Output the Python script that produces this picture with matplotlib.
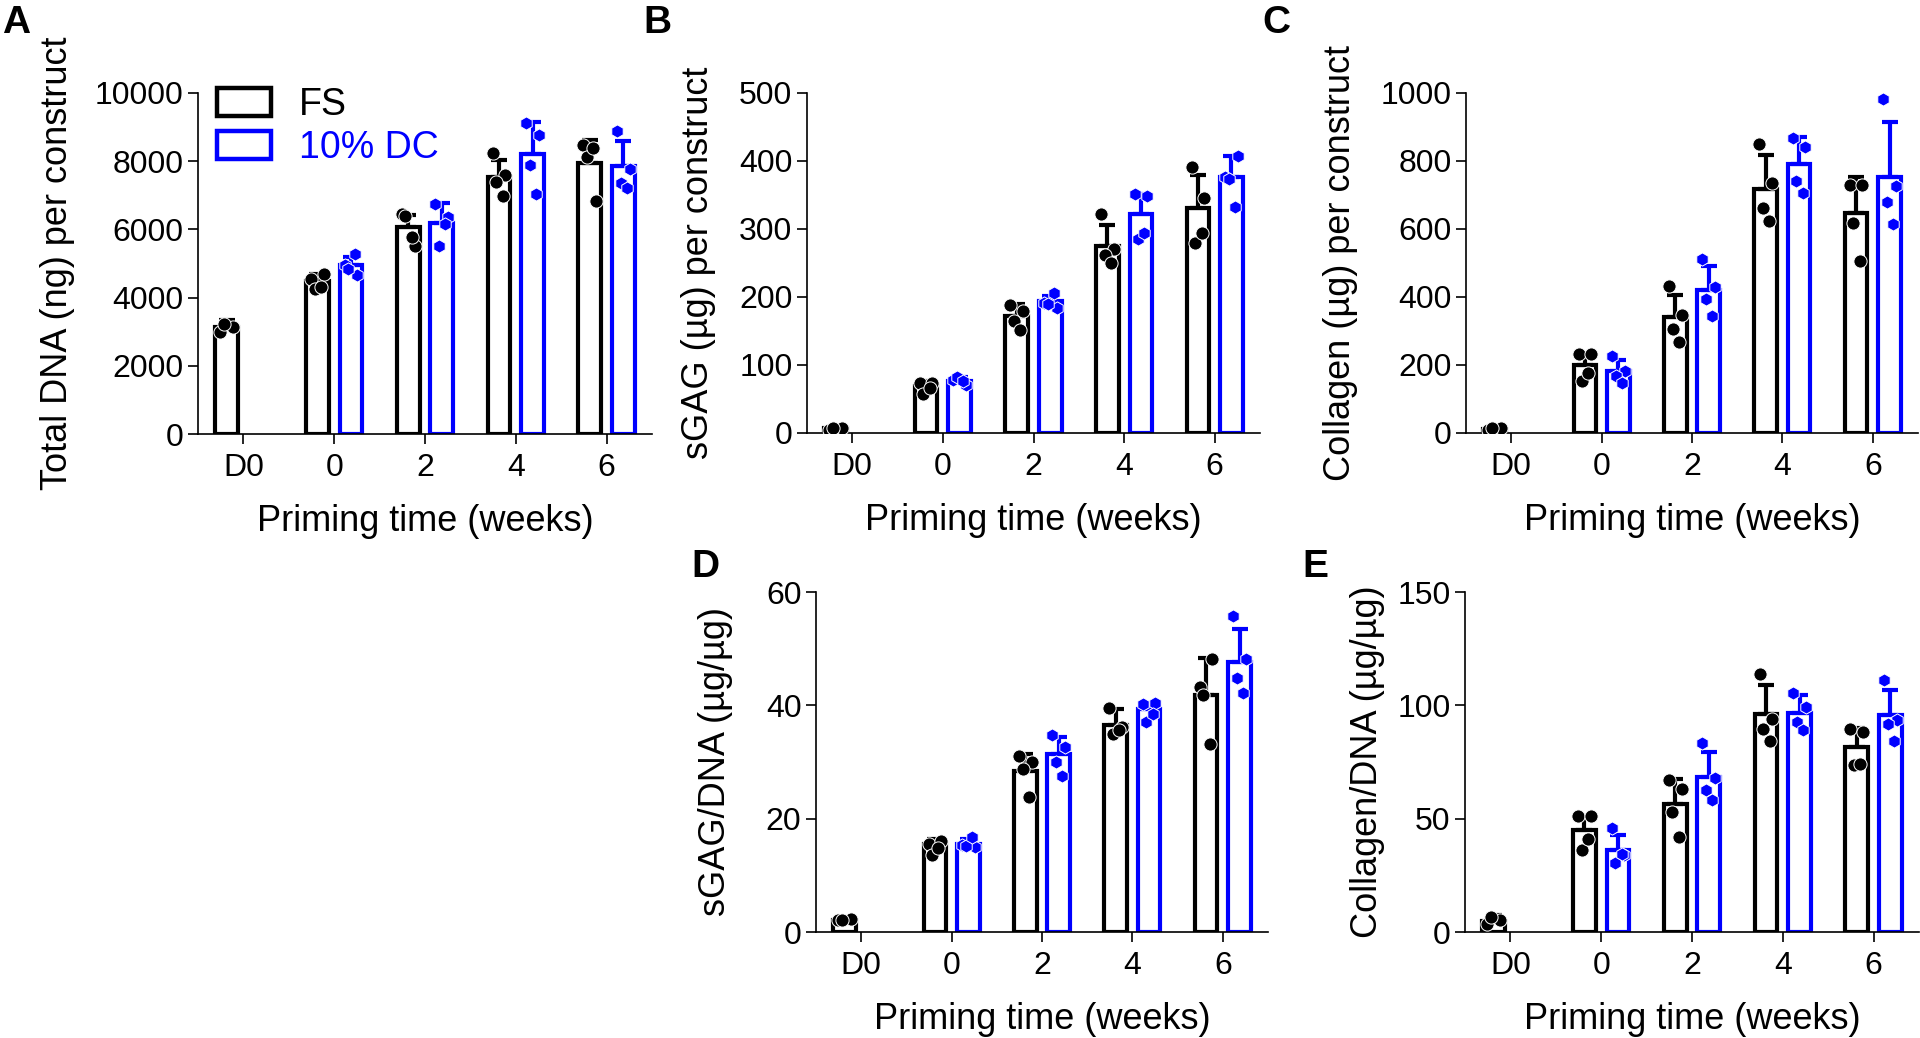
import numpy as np
import matplotlib
matplotlib.use('Agg')
import matplotlib.pyplot as plt
from matplotlib.patches import Patch

plt.rcParams['font.family'] = ['Liberation Sans', 'DejaVu Sans']

groups = ['D0', '0', '2', '4', '6']

# A - Total DNA (ng)
dna_fs_mean = [3130, 4500, 6060, 7545, 7960]
dna_fs_sd = [200, 180, 350, 485, 676]
dna_fs_pts = [[2980, 3150, 3240], [4550, 4680, 4250, 4300], [6460, 5500, 6380, 5780],
              [8230, 7600, 7400, 6970], [8480, 6820, 8130, 8400]]
dna_dc_mean = [4970, 6180, 8212, 7859]
dna_dc_sd = [230, 590, 930, 727]
dna_dc_pts = [[4950, 4650, 4850, 5270], [6750, 6350, 5500, 6150],
              [9110, 8770, 7900, 7050], [8890, 7780, 7370, 7220]]

# B - sGAG (ug)
gag_fs_mean = [7, 69, 172, 275, 331]
gag_fs_sd = [2, 8, 17, 31, 48]
gag_fs_pts = [[5, 8, 8], [73, 74, 58, 66], [188, 179, 164, 152],
              [322, 270, 262, 250], [391, 346, 280, 294]]
gag_dc_mean = [77, 194, 322, 376]
gag_dc_sd = [5, 8, 29, 32]
gag_dc_pts = [[78, 71, 82, 76], [191, 184, 189, 206],
              [351, 348, 285, 294], [377, 408, 374, 333]]

# C - Collagen (ug)
col_fs_mean = [13, 200, 341, 719, 646]
col_fs_sd = [5, 32, 65, 99, 107]
col_fs_pts = [[10, 16, 14], [232, 232, 152, 177], [431, 348, 305, 268],
              [850, 735, 662, 623], [729, 729, 618, 505]]
col_dc_mean = [182, 421, 791, 752]
col_dc_sd = [32, 71, 80, 162]
col_dc_pts = [[227, 182, 167, 146], [513, 429, 394, 343],
              [869, 840, 742, 707], [982, 727, 679, 614]]

# D - sGAG/DNA
gagdna_fs_mean = [2.2, 15.5, 28.5, 36.6, 41.8]
gagdna_fs_sd = [0.3, 0.9, 2.9, 2.8, 6.6]
gagdna_fs_pts = [[2.2, 2.3, 2.1], [15.5, 16.0, 13.6, 14.8], [31.0, 30.0, 28.8, 23.8],
                 [39.6, 36.1, 35.0, 35.6], [43.2, 48.2, 41.9, 33.1]]
gagdna_dc_mean = [15.6, 31.5, 39.4, 47.6]
gagdna_dc_sd = [0.8, 2.9, 1.1, 5.9]
gagdna_dc_pts = [[15.3, 15.0, 15.2, 16.8], [34.7, 32.6, 30.0, 27.6],
                 [40.2, 40.4, 37.1, 38.5], [55.7, 48.2, 44.9, 42.2]]

# E - Collagen/DNA
coldna_fs_mean = [5.0, 44.9, 56.6, 96.0, 81.6]
coldna_fs_sd = [2.4, 6.1, 11.0, 12.8, 8.5]
coldna_fs_pts = [[3.5, 5.5, 6.6], [51.3, 51.0, 36.0, 41.2], [66.9, 63.2, 52.9, 41.9],
                 [113.7, 94.1, 89.7, 84.3], [89.7, 88.2, 73.5, 74.0]]
coldna_dc_mean = [36.3, 68.4, 96.6, 95.6]
coldna_dc_sd = [6.3, 11.0, 7.8, 11.0]
coldna_dc_pts = [[46.0, 33.8, 30.4, 34.6], [83.5, 68.1, 62.5, 58.4],
                 [105.4, 99.3, 92.6, 89.3], [111.3, 93.4, 91.9, 84.3]]

BLUE = '#0000ff'
W, H = 1920, 1038
fig = plt.figure(figsize=(W / 100, H / 100), dpi=100)

def make_ax(l, t, r, b):
    return fig.add_axes([l / W, 1 - b / H, (r - l) / W, (b - t) / H])

jit = [-0.07, 0.07, -0.03, 0.04]
bw = 0.25
off = 0.185
LW = 3.0

def draw_series(ax, xs, means, sds, pts, color, marker, ms):
    ax.bar(xs, means, width=bw, facecolor='white', edgecolor=color, linewidth=LW, zorder=2)
    for x, m, s, p in zip(xs, means, sds, pts):
        ax.errorbar([x], [m], yerr=[[0], [s]], fmt='none', ecolor=color, elinewidth=LW,
                    capsize=5.5, capthick=LW, zorder=3)
        jx = [x + jit[i] for i in range(len(p))]
        ax.plot(jx, p, linestyle='none', marker=marker, markersize=ms, color=color,
                markeredgecolor='white', markeredgewidth=0.7, zorder=4)

def panel(ax, fs_m, fs_s, fs_p, dc_m, dc_s, dc_p, ymax, ystep, ylabel, ylab_x):
    xg = np.arange(len(groups))
    draw_series(ax, xg - off, fs_m, fs_s, fs_p, 'black', 'o', 9.5)
    draw_series(ax, xg[1:] + off, dc_m, dc_s, dc_p, BLUE, 'h', 9.5)
    ax.set_xlim(-0.5, 4.5)
    ax.set_ylim(0, ymax)
    ax.set_yticks(np.arange(0, ymax + ystep / 2, ystep))
    ax.set_xticks(xg)
    ax.set_xticklabels(groups)
    for s in ['top', 'right']:
        ax.spines[s].set_visible(False)
    for s in ['left', 'bottom']:
        ax.spines[s].set_linewidth(1.2)
    ax.tick_params(direction='out', length=7.5, width=1.2, labelsize=23, pad=3)
    ax.tick_params(axis='x', pad=6)
    ax.set_ylabel(ylabel, fontsize=26)
    ax.yaxis.set_label_coords(ylab_x, 0.5)
    ax.set_xlabel('Priming time (weeks)', fontsize=26)
    ax.xaxis.set_label_coords(0.5, -0.205)

axA = make_ax(198, 93, 652, 434)
axB = make_ax(807, 93, 1260, 433)
axC = make_ax(1466, 93, 1918, 433)
axD = make_ax(816, 592, 1268, 932)
axE = make_ax(1465, 592, 1919, 932)

panel(axA, dna_fs_mean, dna_fs_sd, dna_fs_pts, dna_dc_mean, dna_dc_sd, dna_dc_pts,
      10000, 2000, 'Total DNA (ng) per construct', -0.271)
panel(axB, gag_fs_mean, gag_fs_sd, gag_fs_pts, gag_dc_mean, gag_dc_sd, gag_dc_pts,
      500, 100, 'sGAG (µg) per construct', -0.200)
panel(axC, col_fs_mean, col_fs_sd, col_fs_pts, col_dc_mean, col_dc_sd, col_dc_pts,
      1000, 200, 'Collagen (µg) per construct', -0.240)
panel(axD, gagdna_fs_mean, gagdna_fs_sd, gagdna_fs_pts, gagdna_dc_mean, gagdna_dc_sd, gagdna_dc_pts,
      60, 20, 'sGAG/DNA (µg/µg)', -0.184)
panel(axE, coldna_fs_mean, coldna_fs_sd, coldna_fs_pts, coldna_dc_mean, coldna_dc_sd, coldna_dc_pts,
      150, 50, 'Collagen/DNA (µg/µg)', -0.176)

handles = [Patch(facecolor='white', edgecolor='black', linewidth=3.2),
           Patch(facecolor='white', edgecolor=BLUE, linewidth=3.2)]
axA.legend(handles, ['FS', '10% DC'], loc='upper left', bbox_to_anchor=(0.041, 1.018),
           frameon=False, borderpad=0, borderaxespad=0, handlelength=1.45, handleheight=0.78,
           handletextpad=0.75, labelspacing=0.2, fontsize=27, labelcolor=['black', BLUE])

for letter, x, y in [('A', 2, 33), ('B', 643, 33), ('C', 1262, 33), ('D', 691, 577), ('E', 1302, 577)]:
    fig.text(x / W, 1 - y / H, letter, fontsize=28, fontweight='bold', va='baseline', ha='left')

fig.savefig('out.png', dpi=100)
